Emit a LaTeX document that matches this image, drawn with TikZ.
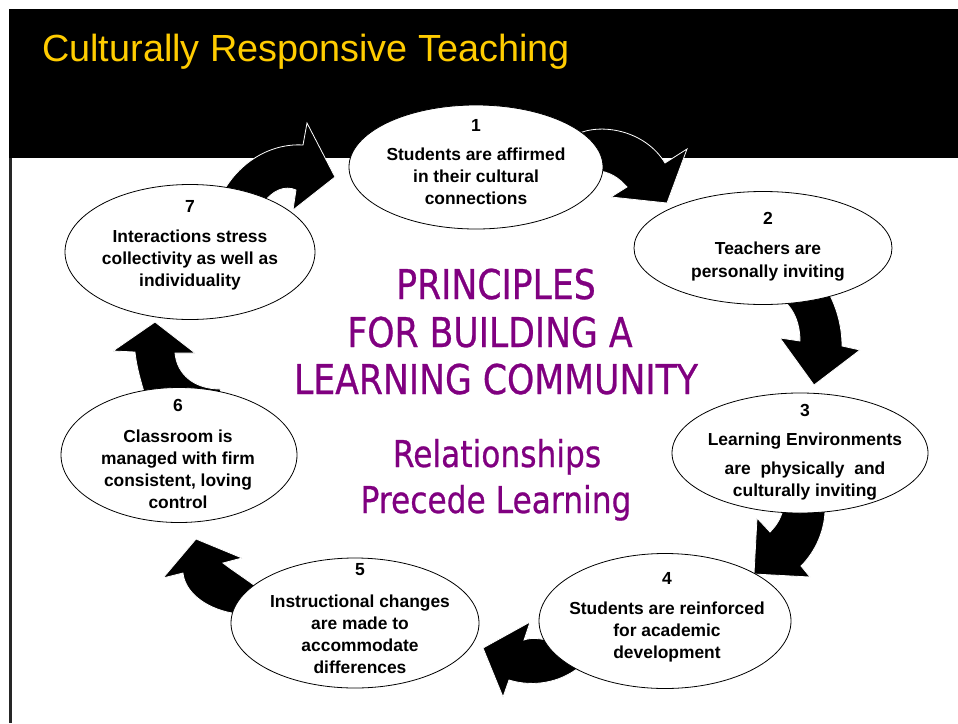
\documentclass[tikz,border=0pt]{standalone}
\usepackage{fontspec}
\usepackage{graphicx}
\setmainfont{Liberation Sans}
\newfontfamily\tahomalike{DejaVu Sans}[UprightFeatures={FakeBold=0.7}]
\usetikzlibrary{shapes.geometric}
\definecolor{titleyellow}{RGB}{255,204,0}
\definecolor{plum}{RGB}{128,0,128}
\newcommand\squeezed[1]{\scalebox{0.845}[1]{#1}}

\begin{document}
\begin{tikzpicture}[x=1pt,y=-1pt,
  bubble/.style={ellipse, draw=black, line width=0.8pt, fill=white, inner sep=0pt},
  numtxt/.style={font=\fontsize{17.5}{20}\selectfont\bfseries, inner sep=0pt, anchor=base},
  bodytxt/.style={font=\fontsize{17.4}{22}\selectfont\bfseries, align=center, inner sep=0pt, anchor=north},
  bigarrow/.style={fill=black, draw=white, line width=0.8pt, line join=miter},
  plumtxt/.style={text=plum, inner sep=0pt, anchor=base},
  bigline/.style={plumtxt, font=\tahomalike\fontsize{41}{41}\selectfont},
  midline/.style={plumtxt, font=\tahomalike\fontsize{37}{37}\selectfont}
]
\useasboundingbox (0,0) rectangle (958,723);
\fill[white] (0,0) rectangle (958,723);

% header band and left rule
\fill[black] (9,9) rectangle (958,158);
\draw[black!85, line width=2.5pt] (10.5,158) -- (10.5,723);
\node[anchor=base west, inner sep=0pt, text=titleyellow,
      font=\fontsize{37.8}{40}\selectfont] (title) at (42,61) {Culturally Responsive Teaching};

% curved block arrows (drawn first, the bubbles cover their tails)
% 7 -> 1
\path[bigarrow] (222,194) .. controls (238,163) and (270,143) .. (303,145)
  -- (307,123) -- (335,177) -- (293,210) -- (296,190)
  .. controls (285,185) and (272,190) .. (262,205) -- cycle;
% 1 -> 2
\path[bigarrow] (570,140) -- (575,135) .. controls (600,122) and (645,130) .. (665,163)
  -- (687,149) -- (667,203) -- (611,197) -- (627,187)
  .. controls (618,177) and (610,172) .. (595,170) -- cycle;
% 2 -> 3
\path[bigarrow] (790,290) -- (826,288) .. controls (836,305) and (842,325) .. (842,346)
  -- (860,350) -- (814,385) -- (780,338) -- (800,341)
  .. controls (800,325) and (795,310) .. (783,300) -- cycle;
% 3 -> 4
\path[bigarrow] (790,505) -- (825,505) .. controls (826,530) and (815,552) .. (801,566)
  -- (810,577) -- (754,574) -- (757,518) -- (770,532)
  .. controls (778,524) and (782,516) .. (784,505) -- cycle;
% 4 -> 5
\path[bigarrow] (590,650) -- (585,662) .. controls (565,682) and (535,688) .. (509,680)
  -- (503,697) -- (483,648) -- (530,622) -- (524,640)
  .. controls (532,637) and (545,638) .. (560,645) -- cycle;
% 5 -> 6
\path[bigarrow] (223,563) .. controls (232,570) and (243,577) .. (258,588)
  -- (255,612) -- (232,613) .. controls (205,608) and (185,592) .. (183,573)
  -- (163,578) -- (196,539) -- (242,558) -- cycle;
% 6 -> 7
\path[bigarrow] (147,402) .. controls (142,385) and (137,370) .. (135,352)
  -- (113,351) -- (155,322) -- (195,353) -- (175,353)
  .. controls (177,375) and (195,389) .. (220,389) -- (224,402) -- cycle;

% the seven principles
\node[bubble, minimum width=254pt, minimum height=124pt] (e1) at (476,167) {};
\node[numtxt] (n1) at (476,131) {1};
\node[bodytxt] (t1) at (476,147.5) {Students are affirmed\\in their cultural\\connections};

\node[bubble, minimum width=258pt, minimum height=113pt] (e2) at (763,248) {};
\node[numtxt] (n2) at (768,224) {2};
\node[bodytxt] (t2) at (768,241.5) {Teachers are\\[1pt]personally inviting};

\node[bubble, minimum width=256pt, minimum height=120pt] (e3) at (800,453) {};
\node[numtxt] (n3) at (805,416) {3};
\node[bodytxt] (t3) at (805,432.5) {Learning Environments\\[7pt]are\ \ physically\ \ and\\culturally inviting};

\node[bubble, minimum width=252pt, minimum height=135pt] (e4) at (665,621) {};
\node[numtxt] (n4) at (667,584) {4};
\node[bodytxt] (t4) at (667,601.5) {Students are reinforced\\for academic\\development};

\node[bubble, minimum width=248pt, minimum height=130pt] (e5) at (355,623) {};
\node[numtxt] (n5) at (360,575) {5};
\node[bodytxt] (t5) at (360,594.5) {Instructional changes\\are made to\\accommodate\\differences};

\node[bubble, minimum width=236pt, minimum height=135pt] (e6) at (179,455) {};
\node[numtxt] (n6) at (178,411) {6};
\node[bodytxt] (t6) at (178,429.5) {Classroom is\\managed with firm\\consistent, loving\\control};

\node[bubble, minimum width=250pt, minimum height=135pt] (e7) at (190,252) {};
\node[numtxt] (n7) at (190,212) {7};
\node[bodytxt] (t7) at (190,229.5) {Interactions stress\\collectivity as well as\\individuality};

% central heading
\node[bigline] (h1) at (496,299) {\squeezed{PRINCIPLES}};
\node[bigline] (h2) at (490,347) {\squeezed{FOR BUILDING A}};
\node[bigline] (h3) at (496,394) {\squeezed{LEARNING COMMUNITY}};
\node[midline] (h4) at (497,467) {\squeezed{Relationships}};
\node[midline] (h5) at (496,513) {\squeezed{Precede Learning}};
\end{tikzpicture}
\end{document}
